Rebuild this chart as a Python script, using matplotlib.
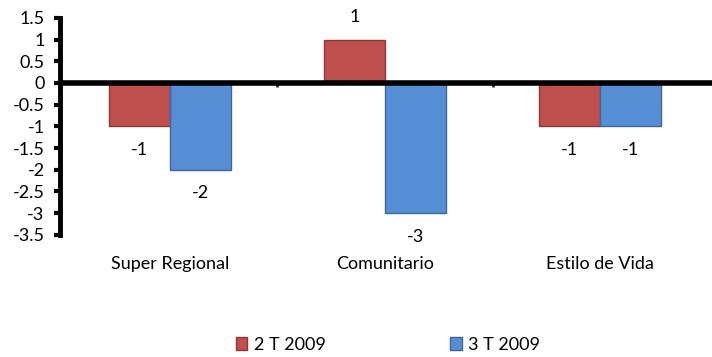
import matplotlib
matplotlib.use("Agg")
import matplotlib.pyplot as plt
import numpy as np
from matplotlib.patches import Patch
import matplotlib.transforms as mtransforms

plt.rcParams['font.family'] = ['Lato', 'DejaVu Sans']

categories = ["Super Regional", "Comunitario", "Estilo de Vida"]
series_names = ["2 T 2009", "3 T 2009"]
q2_values = [-1, 1, -1]
q3_values = [-2, -3, -1]
y_ticks = [1.5, 1, 0.5, 0, -0.5, -1, -1.5, -2, -2.5, -3, -3.5]

red_face, red_edge = "#C0504D", "#8C3836"
blue_face, blue_edge = "#558ED5", "#3A679F"
fs = 13

fig = plt.figure(figsize=(7.12, 3.57), dpi=100)
ax = fig.add_axes([0.084, 0.342, 0.916, 0.608])

x = np.arange(len(categories))
w = 0.283
b1 = ax.bar(x - w / 2, q2_values, w, color=red_face, edgecolor=red_edge, linewidth=1, zorder=2)
b2 = ax.bar(x + w / 2, q3_values, w, color=blue_face, edgecolor=blue_edge, linewidth=1, zorder=2)

# value labels beyond the bar ends
for bars, vals in ((b1, q2_values), (b2, q3_values)):
    for rect, v in zip(bars, vals):
        cx = rect.get_x() + rect.get_width() / 2
        off = 0.52 if v > 0 else -0.54
        ax.text(cx, v + off, f"{v}", ha="center", va="center", fontsize=fs, color="black")

ax.set_ylim(-3.5, 1.5)
ax.set_xlim(-0.512, 2.52)
ax.set_yticks(y_ticks)
ax.set_yticklabels([f"{t:g}" for t in y_ticks], fontsize=fs)
ax.tick_params(axis="y", direction="out", length=4, width=3, pad=7)

for s in ("top", "right", "bottom"):
    ax.spines[s].set_visible(False)
ax.spines["left"].set_linewidth(3.5)

# zero baseline with small category separators
ax.axhline(0, color="black", linewidth=4, zorder=3)
ax.set_xticks([0.5, 1.5])
ax.set_xticklabels([])
ax.tick_params(axis="x", direction="out", length=3, width=2, color="#333333")
ax.spines["bottom"].set_position(("data", 0))

trans = mtransforms.blended_transform_factory(ax.transData, ax.transAxes)
for xi, name in zip(x, categories):
    ax.text(xi, -0.135, name, transform=trans, ha="center", va="center", fontsize=fs)

handles = [Patch(facecolor=red_face, edgecolor=red_edge),
           Patch(facecolor=blue_face, edgecolor=blue_edge)]
fig.legend(handles, series_names, loc="center", bbox_to_anchor=(0.545, 0.034), ncol=2,
           frameon=False, fontsize=fs, handlelength=0.65, handleheight=0.65,
           handletextpad=0.35, columnspacing=6.9)

fig.savefig("out.png", dpi=100)
